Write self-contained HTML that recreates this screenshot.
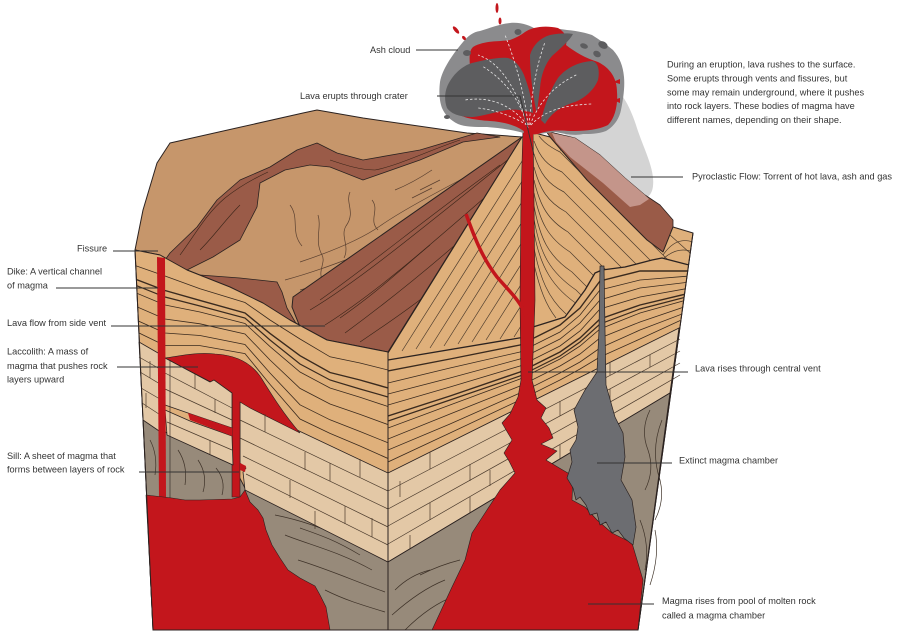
<!DOCTYPE html>
<html><head><meta charset="utf-8">
<style>
html,body{margin:0;padding:0;background:#fff;}
svg{display:block}
text{font-family:"Liberation Sans",Arial,sans-serif;font-size:9.2px;fill:#333;}
</style></head><body>
<svg width="900" height="642" viewBox="0 0 900 642" xmlns="http://www.w3.org/2000/svg">
<defs>
<clipPath id="cLeft"><polygon points="135,250 160,255 187,270 230,287 263,303 290,320 327,340 388,352 388,630 153,630"/></clipPath>
<clipPath id="cConeL"><polygon points="388,353 522,137 527,137 527,337 388,360"/></clipPath>
<clipPath id="cConeR"><polygon points="529,135 550,137 587,180 620,213 647,240 663,252 673,227 693,233 689,265 662,258 652,260 625,267 602,270 595,273 585,290 565,317 533,327 529,330"/></clipPath>
<clipPath id="cStrata"><polygon points="388,360 525,337 533,327 565,317 585,290 595,273 602,270 625,267 652,260 662,258 689,265 679,328 388,473"/></clipPath>
<clipPath id="cTri"><polygon points="522,137 293,297 292,307 300,327 327,340 388,352"/></clipPath>
<clipPath id="cTop"><polygon points="135,250 143,210 157,163 170,143 303,113 317,110 363,118 467,133 522,137 388,352 327,340 290,320 263,303 230,287 187,270 160,255"/></clipPath>
</defs>

<!-- pyroclastic flow -->
<path d="M596,80 C614,78 628,100 636,125 C643,148 655,168 653,186 C652,197 644,201 634,201 L600,165 C585,150 572,142 560,136 L590,128 Z" fill="#d4d4d4"/>
<!-- right flank brown -->
<polygon points="546,131 575,138 600,155 625,178 645,195 660,205 673,220 673,227 663,252 647,240 620,213 587,180 550,137" fill="#9a5b48" stroke="#2b2220" stroke-width="0.8" stroke-linejoin="round"/>
<polygon points="552,133 575,138 600,155 625,178 645,195 649,199 640,205 630,207 603,183 570,157 556,142" fill="#c4958a"/>

<!-- top plate -->
<polygon points="135,250 143,210 157,163 170,143 303,113 317,110 363,118 467,133 522,137 388,352 327,340 290,320 263,303 230,287 187,270 160,255" fill="#c6966b" stroke="#2b2220" stroke-width="1" stroke-linejoin="round"/>
<g clip-path="url(#cTop)" fill="none" stroke="#5a4030" stroke-width="0.7">
<path d="M300,262 C330,252 360,240 380,226 C400,212 430,196 460,180 C480,170 500,156 515,146"/>
<path d="M285,280 C315,272 340,262 372,250 C395,240 420,225 450,205"/>
<path d="M350,192 C345,203 356,212 346,226 C340,236 350,246 344,258"/>
<path d="M290,205 C300,218 290,232 302,246"/>
<path d="M318,215 C322,228 314,240 322,255 C326,262 318,270 322,280"/>
<path d="M372,200 C380,210 368,220 378,230"/>
<path d="M395,190 C405,186 420,178 432,170"/>
<path d="M340,270 C360,268 375,260 390,255"/>
<path d="M420,190 L440,180 M412,198 L432,188"/>
<path d="M300,290 C315,286 325,283 340,278"/>
<path d="M395,110 L470,130"/>
</g>

<!-- winding band -->
<polygon points="477,133 420,150 363,160 337,153 317,143 297,150 270,167 240,180 217,200 197,227 170,253 165,260 187,270 213,257 240,240 257,207 260,183 285,170 310,165 330,167 363,180 420,160 463,142 500,137" fill="#9a5b48" stroke="#2b2220" stroke-width="0.8" stroke-linejoin="round"/>
<g fill="none" stroke="#3a2418" stroke-width="0.6">
<path d="M180,255 C195,235 205,215 225,198 C240,186 255,178 268,172"/>
<path d="M330,160 C345,165 360,170 375,170 C400,165 430,150 460,140"/>
<path d="M200,250 C215,235 225,220 240,205"/>
</g>
<!-- lobe -->
<polygon points="187,271 200,275 240,278 277,282 282,292 287,308 297,325 280,315 257,302 223,285 187,272" fill="#9a5b48" stroke="#2b2220" stroke-width="0.8"/>
<!-- big triangle -->
<polygon points="522,137 293,297 292,307 300,327 327,340 388,352" fill="#9a5b48" stroke="#2b2220" stroke-width="1" stroke-linejoin="round"/>
<g clip-path="url(#cTri)" fill="none" stroke="#3a2418" stroke-width="0.6">
<path d="M310,310 C360,280 420,230 520,150"/>
<path d="M325,325 C380,290 430,245 522,165"/>
<path d="M345,333 C390,300 440,260 500,205"/>
<path d="M360,342 C400,315 445,285 480,245"/>
<path d="M320,300 C370,265 430,215 500,165"/>
<path d="M340,318 C380,290 400,270 430,245"/>
</g>

<!-- RIGHT FACE base (cone + strata) -->
<polygon points="388,353 522,137 535,133 550,137 587,180 620,213 647,240 663,252 673,227 693,233 638,630 388,630" fill="#dfb07b" stroke="#2b2220" stroke-width="1" stroke-linejoin="round"/>
<g clip-path="url(#cConeL)" fill="none" stroke="#4a3a2c" stroke-width="0.7">
<path d="M402,351 L543,128"/><path d="M416,349 L557,126"/><path d="M430,348 L571,124"/>
<path d="M444,346 L585,122"/><path d="M458,344 L599,120"/><path d="M472,342 L613,119"/>
<path d="M486,340 L627,117"/><path d="M500,339 L641,115"/><path d="M514,337 L655,113"/>
</g>
<g clip-path="url(#cConeR)" fill="none" stroke="#4a3a2c" stroke-width="0.7">
<path d="M534,128 C540,140 548,146 560,152 L760,352"/>
<path d="M534,141 C540,158 548,166 562,172 L760,370"/>
<path d="M534,154 C540,174 548,184 564,192 L760,388"/>
<path d="M534,167 C540,190 548,202 566,212 L760,406"/>
<path d="M534,180 C540,206 548,220 568,232 L760,424"/>
<path d="M534,193 C540,222 548,238 570,252 L760,442"/>
<path d="M534,206 C540,238 548,256 572,272 L760,460"/>
<path d="M534,219 C540,254 550,272 576,290 L760,474"/>
<path d="M534,232 C540,266 552,288 580,306"/>
<path d="M534,248 C540,278 548,298 566,314"/>
<path d="M534,264 C540,290 546,305 556,318"/>
<path d="M560,150 C580,150 600,170 620,190 L700,262"/>
<path d="M663,255 Q676,236 693,242"/><path d="M660,262 Q676,245 693,252"/>
</g>
<g clip-path="url(#cStrata)" fill="none" stroke="#3a2a1e" stroke-width="0.8">
<polyline points="388,371 450,359 520,345 560,325 580,308 600,281 640,271 690,271" stroke-width="1.4"/>
<polyline points="388,383 450,368 520,352 560,332 580,315 600,290 640,280 690,276"/>
<polyline points="388,394 450,378 520,359 560,339 580,323 600,300 640,288 690,282"/>
<polyline points="388,405 450,387 520,366 560,346 580,331 600,309 640,297 690,288"/>
<polyline points="388,416 450,396 520,372 560,352 580,338 600,319 640,305 690,293" stroke-width="1.4"/>
<polyline points="388,421 450,400 520,376 560,356 580,342 600,324 640,309 690,296" stroke-width="1.2"/>
<polyline points="388,428 450,405 520,379 560,359 580,346 600,329 640,313 690,299"/>
<polyline points="388,439 450,414 520,386 560,366 580,354 600,338 640,322 690,305"/>
<polyline points="388,450 450,424 520,393 560,373 580,362 600,348 640,330 690,311"/>
<polyline points="388,462 450,433 520,400 560,380 580,369 600,357 640,339 690,316"/>
</g>
<!-- cone / strata boundary -->
<polyline points="388,360 525,337 533,327 565,317 585,290 595,273 602,270 625,267 652,260 662,258 689,265" fill="none" stroke="#2b2220" stroke-width="1.3" stroke-linejoin="round"/>
<!-- right limestone -->
<polygon points="388,473 679,328 670,393 388,562" fill="#e3c8a6" stroke="#2b2220" stroke-width="0.9"/>
<g fill="none" stroke="#4a3a2c" stroke-width="0.7">
<line x1="388" y1="491" x2="680" y2="339"/><line x1="388" y1="509" x2="680" y2="351"/>
<line x1="388" y1="526" x2="680" y2="363"/><line x1="388" y1="544" x2="680" y2="375"/>
<line x1="430" y1="452" x2="430" y2="469"/><line x1="470" y1="464" x2="470" y2="481"/>
<line x1="430" y1="503" x2="430" y2="520"/><line x1="470" y1="497" x2="470" y2="513"/>
<line x1="520" y1="422" x2="520" y2="437"/><line x1="520" y1="453" x2="520" y2="468"/>
<line x1="560" y1="401" x2="560" y2="416"/><line x1="560" y1="445" x2="560" y2="459"/>
<line x1="610" y1="362" x2="610" y2="375"/><line x1="610" y1="389" x2="610" y2="402"/>
<line x1="650" y1="355" x2="650" y2="367"/><line x1="400" y1="481" x2="400" y2="497"/>
<line x1="410" y1="535" x2="410" y2="552"/><line x1="490" y1="470" x2="490" y2="486"/>
</g>
<!-- right basement -->
<polygon points="388,562 670,393 638,630 388,630" fill="#978a7a" stroke="#2b2220" stroke-width="0.9"/>
<g fill="none" stroke="#3e3228" stroke-width="0.7">
<path d="M395,590 Q410,575 430,570"/><path d="M392,615 Q420,590 445,580"/><path d="M405,630 Q430,605 455,596"/>
<path d="M420,575 Q440,565 460,560"/>
<path d="M650,410 Q640,430 648,450 Q655,470 645,490"/><path d="M662,420 Q650,450 660,480 Q665,500 655,520"/>
<path d="M640,520 Q650,545 645,570"/><path d="M655,530 Q660,555 650,585"/>
</g>
<!-- central vent red + magma chamber -->
<polygon points="523,128 533,128 534,200 535,300 534,330 532,380 537,400 546,408 541,418 549,428 553,438 541,444 557,451 546,460 561,469 573,476 572,500 585,507 597,520 612,533 632,543 643,580 638,630 432,630 452,587 465,560 472,533 485,513 500,490 515,473 509,461 504,453 512,440 502,423 510,414 518,397 521,380 520,300 521,200" fill="#c3161c" stroke="#2b2220" stroke-width="0.6" stroke-linejoin="round"/>
<path d="M466,214 C472,230 480,255 497,277 C510,292 520,300 527,318" fill="none" stroke="#c3161c" stroke-width="3.5"/>
<!-- extinct chamber -->
<polygon points="600,266 604,266 605,330 606,385 615,417 623,433 625,457 621,480 632,500 636,527 633,545 624,538 618,530 612,533 606,522 600,525 597,513 590,515 586,505 580,497 576,500 573,488 567,478 572,462 570,450 576,440 578,427 574,410 585,390 597,372 599,330" fill="#6c6d71" stroke="#2b2220" stroke-width="0.7" stroke-linejoin="round"/>

<!-- LEFT FACE -->
<polygon points="135,250 160,255 187,270 230,287 263,303 290,320 327,340 388,352 388,630 153,630" fill="#dfb07b" stroke="#2b2220" stroke-width="1" stroke-linejoin="round"/>
<g clip-path="url(#cLeft)" fill="none" stroke="#3a2a1e" stroke-width="0.8">
<polyline points="135,265.5 165,276 200,288.7 245,302.5 270,320 300,339 330,356.8 360,363 388,370"/>
<polyline points="135,279 165,290.5 200,300.4 245,313 270,333.4 300,355.7 330,372.5 360,380 388,388" stroke-width="1.4"/>
<polyline points="135,285 165,297 200,306 245,318 270,340 300,364 330,380 360,389 388,397" stroke-width="1.2"/>
<polyline points="135,292.5 165,305 200,312 245,323.5 270,346.6 300,372 330,388 360,397.3 388,406.5"/>
<polyline points="135,306 165,319 200,323.8 245,334 270,360 300,388.4 330,404 360,414.4 388,424.6"/>
<polyline points="135,319.5 165,333 200,335.5 245,344.5 270,373 300,404.8 330,419.8 360,431.5 388,442.8"/>
<polyline points="135,331 165,345.6 200,345.6 245,353.6 270,384.4 300,419 330,433.4 360,446 388,458.5"/>
</g>
<!-- left basement -->
<polygon points="143,418 167,433 200,450 233,465 245,488 388,562 388,630 153,630" fill="#978a7a" stroke="#2b2220" stroke-width="0.9"/>
<g fill="none" stroke="#3e3228" stroke-width="0.7">
<path d="M150,440 Q158,455 155,475"/><path d="M178,450 Q188,465 185,485"/>
<path d="M198,460 Q208,475 203,492"/><path d="M216,468 Q226,480 222,495"/>
<path d="M275,515 C300,520 320,527 350,540"/><path d="M285,535 C310,545 340,552 372,570"/>
<path d="M298,560 C330,570 352,580 385,592"/><path d="M325,590 C345,600 362,605 385,612"/>
<path d="M300,528 C320,535 335,540 360,555"/>
</g>
<!-- left limestone -->
<g fill="#e3c8a6" stroke="#2b2220" stroke-width="0.8" stroke-linejoin="round">
<polygon points="139,342 165,357 165,435 143,420"/>
<polygon points="240,402 250,403 297,430 388,473 388,562 245,490 243,472 246,468 240,463"/>
</g>
<!-- laccolith red (under slabs) -->
<path d="M165,358 C180,356 195,352 215,354 C235,355 250,362 260,376 C270,392 282,412 300,433 L250,408 L240,402 L240,497 L232,497 L232,393 Z" fill="#c3161c" stroke="#2b2220" stroke-width="0.6"/>
<g fill="#e3c8a6" stroke="#2b2220" stroke-width="0.8" stroke-linejoin="round">
<polygon points="165,358 210,382 214,380 232,393 232,428 188,413 165,405"/>
<polygon points="165,410 190,421 232,436 233,465 200,450 167,435"/>
</g>
<g fill="none" stroke="#4a3a2c" stroke-width="0.7">
<line x1="139" y1="357" x2="165" y2="372"/><line x1="140" y1="372" x2="165" y2="387"/>
<line x1="141" y1="388" x2="165" y2="402"/><line x1="142" y1="403" x2="165" y2="418"/>
<line x1="150" y1="361" x2="150" y2="378"/><line x1="146" y1="393" x2="146" y2="408"/>
<line x1="165" y1="373" x2="232" y2="408"/><line x1="165" y1="389" x2="232" y2="420"/>
<line x1="195" y1="374" x2="195" y2="389"/><line x1="215" y1="399" x2="215" y2="413"/>
<line x1="167" y1="422" x2="232" y2="450"/><line x1="210" y1="440" x2="210" y2="454"/>
<line x1="240" y1="420" x2="388" y2="491"/><line x1="240" y1="438" x2="388" y2="509"/>
<line x1="243" y1="456" x2="388" y2="527"/><line x1="246" y1="474" x2="388" y2="545"/>
<line x1="265" y1="414" x2="265" y2="432"/><line x1="305" y1="452" x2="305" y2="470"/>
<line x1="330" y1="463" x2="330" y2="481"/><line x1="360" y1="459" x2="360" y2="477"/>
<line x1="290" y1="480" x2="290" y2="498"/><line x1="345" y1="506" x2="345" y2="524"/>
<line x1="372" y1="518" x2="372" y2="537"/><line x1="315" y1="511" x2="315" y2="529"/>
</g>
<!-- crack & sill -->
<polygon points="188,413 232,428 232,436 190,420" fill="#c3161c"/>
<polygon points="240,463 246,466 245,472 240,470" fill="#c3161c"/>
<!-- dike -->
<path d="M157,257 L165,258 L166,497 L159,497 Z" fill="#c3161c"/>
<line x1="170" y1="360" x2="170" y2="498" stroke="#2b2220" stroke-width="0.6"/>
<!-- bottom left magma -->
<polygon points="146,495 172,498 185,500 200,500 232,499 240,497 245,490 250,502 258,510 263,518 266,530 272,545 280,558 288,570 300,578 315,586 320,595 326,607 330,630 153,630" fill="#c3161c" stroke="#2b2220" stroke-width="0.6" stroke-linejoin="round"/>

<!-- front edge & outline -->
<line x1="388" y1="352" x2="388" y2="630" stroke="#2b2220" stroke-width="1"/>
<polyline points="135,250 153,630 638,630 693,233" fill="none" stroke="#2b2220" stroke-width="1"/>

<!-- ASH CLOUD -->
<path d="M440,82 C442,70 452,55 463,42 C468,36 473,32 480,31 C490,28 500,24 510,23 C520,22 530,25 537,30 C545,28 556,28 567,30 C578,31 586,33 592,35 C600,40 607,45 613,50 C620,58 623,66 624,77 C625,88 623,100 621,110 C619,120 613,127 606,131 C598,134 590,134 583,134 C575,136 565,134 555,132 L530,135 C515,130 500,128 487,127 C475,127 465,127 458,124 C450,120 445,115 442,108 C439,100 439,90 440,82 Z" fill="#8b8b8d"/>
<path d="M450,88 C452,80 460,74 470,72 C470,60 468,52 473,47 C485,40 500,42 510,40 C515,38 520,36 525,32 C532,27 545,25 558,28 C565,32 568,38 566,45 C575,52 585,58 598,62 C610,68 617,78 617,92 C618,105 615,118 608,125 C598,130 585,131 570,131 C560,130 548,130 538,134 L528,135 C520,126 505,122 490,121 C475,120 462,118 455,112 C450,105 449,95 450,88 Z" fill="#c3161c"/>
<g fill="#5d5d5f">
<path d="M447,87 C452,75 462,66 472,63 C485,60 498,57 508,58 C515,60 520,66 524,75 C529,88 532,100 533,113 C525,110 515,109 507,110 C495,112 483,116 473,117 C462,117 452,115 447,108 C444,100 445,92 447,87 Z"/>
<path d="M536,110 C533,95 530,75 530,55 C533,45 540,38 550,35 C560,33 568,33 573,34 C570,40 562,47 552,56 C545,64 541,75 540,88 C539,96 538,104 537,112 Z"/>
<path d="M541,120 C545,105 550,90 558,78 C566,68 578,62 592,61 C598,62 600,70 598,80 C594,90 585,98 575,102 C562,106 552,112 545,124 Z"/>
<ellipse cx="467" cy="53" rx="4" ry="3"/>
<ellipse cx="518" cy="32" rx="3.5" ry="3"/>
<ellipse cx="603" cy="45" rx="5" ry="3.5" transform="rotate(30 603 45)"/>
<ellipse cx="597" cy="54" rx="4" ry="3" transform="rotate(30 597 54)"/>
<ellipse cx="584" cy="46" rx="4" ry="2.5" transform="rotate(20 584 46)"/>
<ellipse cx="447" cy="117" rx="3" ry="2"/>
</g>
<g fill="none" stroke="#e6e6e6" stroke-width="0.8" stroke-dasharray="2.5 2">
<path d="M527,125 C520,100 505,80 482,66"/>
<path d="M527,125 C512,105 490,96 465,100"/>
<path d="M528,125 C525,95 515,60 505,35"/>
<path d="M529,125 C532,95 535,70 545,42"/>
<path d="M530,125 C540,100 555,85 578,74"/>
<path d="M531,125 C545,110 565,105 592,104"/>
<path d="M527,125 C510,115 495,110 478,108"/>
<path d="M528,128 C518,90 500,62 478,55"/>
</g>
<g fill="#c3161c">
<ellipse cx="456" cy="30" rx="1.8" ry="4.5" transform="rotate(-40 456 30)"/>
<ellipse cx="464" cy="38" rx="1.5" ry="2.5" transform="rotate(-40 464 38)"/>
<ellipse cx="497" cy="8" rx="1.5" ry="5"/>
<ellipse cx="500" cy="21" rx="1.5" ry="3.5"/>
<path d="M613,82 L620,79 L620,84 Z"/>
<path d="M613,100 L620,98 L620,103 Z"/>
</g>
<path d="M523,150 L524,128 L533,128 L533,150 Z" fill="#c3161c"/>

<!-- LABEL LINES -->
<g stroke="#333" stroke-width="0.9" fill="none">
<line x1="416" y1="50" x2="458" y2="50"/>
<polyline points="437,96 520,96 534,155"/>
<line x1="631" y1="177" x2="683" y2="177"/>
<line x1="113" y1="251" x2="158" y2="251"/>
<line x1="56" y1="288" x2="158" y2="288"/>
<line x1="111" y1="326" x2="325" y2="326"/>
<line x1="117" y1="367" x2="198" y2="367"/>
<line x1="139" y1="472" x2="239" y2="472"/>
<line x1="528" y1="372" x2="688" y2="372"/>
<line x1="597" y1="463" x2="672" y2="463"/>
<line x1="588" y1="604" x2="654" y2="604"/>
</g>

<!-- LABELS -->
<text x="370" y="53">Ash cloud</text>
<text x="300" y="99">Lava erupts through crater</text>
<text x="667" y="67.5">During an eruption, lava rushes to the surface.</text>
<text x="667" y="81.5">Some erupts through vents and fissures, but</text>
<text x="667" y="95.5">some may remain underground, where it pushes</text>
<text x="667" y="109">into rock layers. These bodies of magma have</text>
<text x="667" y="123">different names, depending on their shape.</text>
<text x="692" y="179.5">Pyroclastic Flow: Torrent of hot lava, ash and gas</text>
<text x="77" y="251.5">Fissure</text>
<text x="7" y="274.5">Dike: A vertical channel</text>
<text x="7" y="288.5">of magma</text>
<text x="7" y="326">Lava flow from side vent</text>
<text x="7" y="354.5">Laccolith: A mass of</text>
<text x="7" y="369">magma that pushes rock</text>
<text x="7" y="382.5">layers upward</text>
<text x="7" y="459">Sill: A sheet of magma that</text>
<text x="7" y="472.5">forms between layers of rock</text>
<text x="695" y="371.5">Lava rises through central vent</text>
<text x="679" y="463.5">Extinct magma chamber</text>
<text x="662" y="604">Magma rises from pool of molten rock</text>
<text x="662" y="618.5">called a magma chamber</text>
</svg>
</body></html>
